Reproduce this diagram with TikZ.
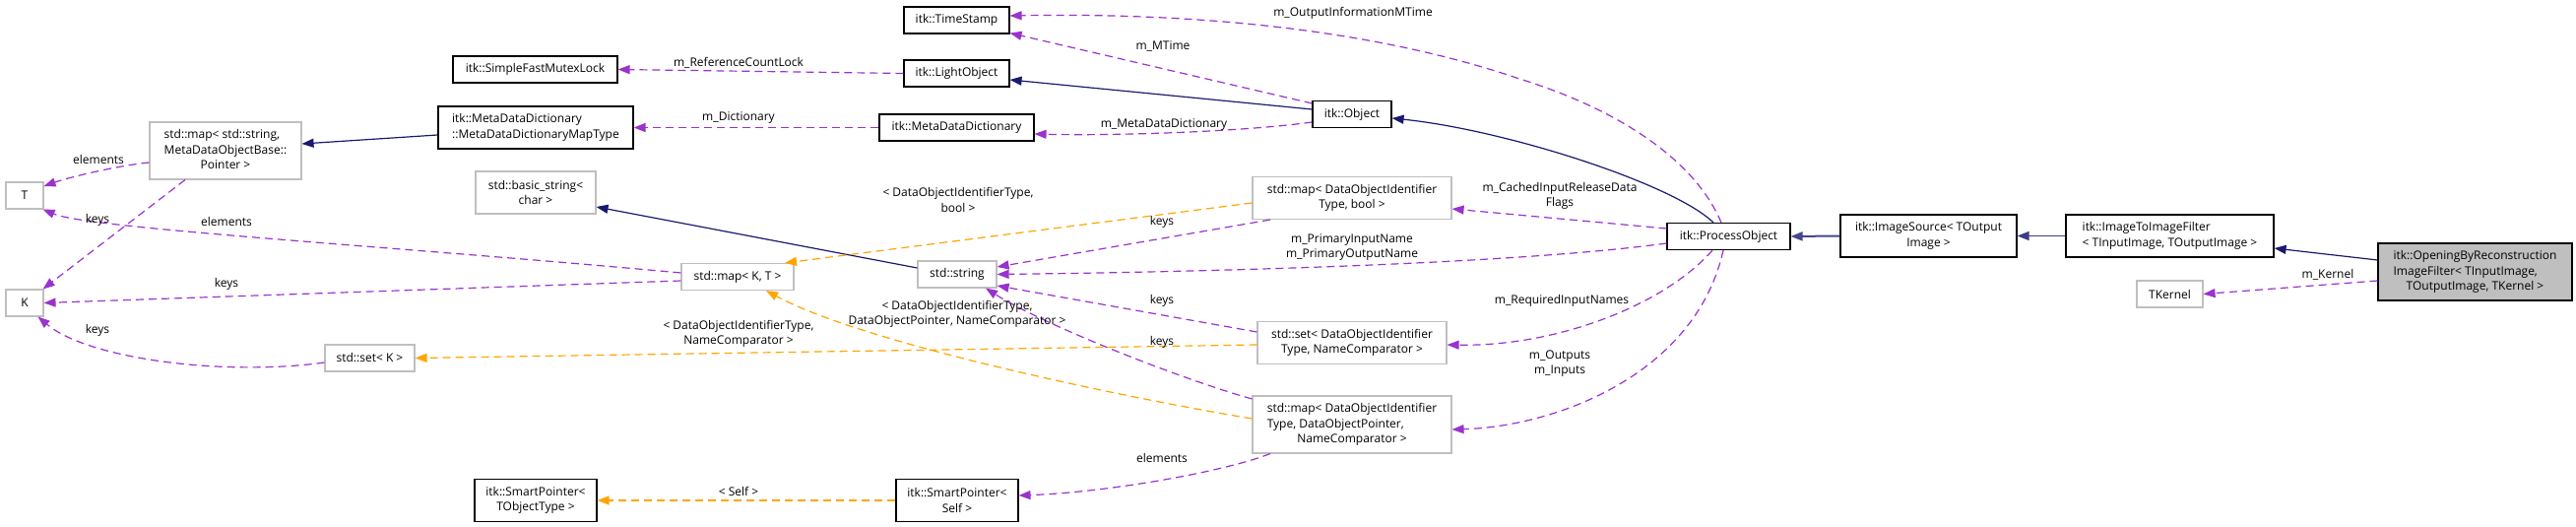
\documentclass[tikz,border=0pt]{standalone}
\usepackage{fontspec}
\setmainfont{Open Sans}
\usetikzlibrary{arrows.meta}

\definecolor{docblue}{HTML}{191970}
\definecolor{docpurple}{HTML}{9A32CD}
\definecolor{docorange}{HTML}{FFA500}
\definecolor{docgray}{HTML}{BFBFBF}

\begin{document}
\begin{tikzpicture}[
    x=1pt, y=-1pt,
    cls/.style={
        draw=black,
        line width=1.1pt,
        fill=white,
        inner sep=0pt,
        font=\fontsize{12}{15.6}\selectfont
    },
    ext/.style={cls, draw=docgray},
    mainbox/.style={cls, fill=docgray},
    row1/.style={minimum height=27pt},
    row2/.style={minimum height=43pt},
    row3/.style={minimum height=58pt},
    lbl/.style={inner sep=0pt, align=center, font=\fontsize{12}{15.6}\selectfont},
    inherit/.style={docblue, line width=1.2pt, -{Triangle[length=12pt,width=9pt]}},
    uses/.style={docpurple, line width=1.2pt, dash pattern=on 8pt off 5pt, -{Triangle[length=12pt,width=9pt]}},
    tmpl/.style={uses, docorange}
]
    \useasboundingbox (0,0) rectangle (2616,535);

    \node[cls, row1, minimum width=107pt] (timestamp) at (971.5,20.5) {itk::TimeStamp};
    \node[cls, row1, minimum width=107pt] (lightobj) at (971.5,74.5) {itk::LightObject};
    \node[cls, row1, minimum width=167pt] (mutexlock) at (543.5,70.5) {itk::SimpleFastMutexLock};
    \node[cls, row1, minimum width=157pt] (metadict) at (971.5,129.5) {itk::MetaDataDictionary};
    \node[cls, row2, minimum width=198pt, align=left] (dictmap) at (544,129.5) {itk::MetaDataDictionary\\::MetaDataDictionaryMapType};
    \node[cls, row1, minimum width=80pt] (object) at (1373,116) {itk::Object};
    \node[ext, row3, minimum width=154pt] (strmap) at (229,153) {\begin{tabular}{@{}l@{}}std::map< std::string,\\MetaDataObjectBase::\\\multicolumn{1}{@{}c@{}}{Pointer >}\end{tabular}};
    \node[ext, row1, minimum width=38pt] (tparam) at (25,198.5) {T};
    \node[ext, row1, minimum width=38pt] (kparam) at (25,307.5) {K};
    \node[ext, row2, minimum width=122pt, align=center] (basicstr) at (544,195.5) {std::basic\_string<\\char >};
    \node[ext, row1, minimum width=114pt] (mapkt) at (749,281) {std::map< K, T >};
    \node[ext, row1, minimum width=91pt] (setk) at (375.5,363.5) {std::set< K >};
    \node[cls, row2, minimum width=124pt, align=center] (ptrobj) at (544,508) {itk::SmartPointer<\\TObjectType >};
    \node[ext, row1, minimum width=80pt] (stdstr) at (972,278.5) {std::string};
    \node[ext, row2, minimum width=202pt, align=center] (flagmap) at (1373,201) {std::map< DataObjectIdentifier\\Type, bool >};
    \node[ext, row2, minimum width=192pt, align=center] (nameset) at (1373,348) {std::set< DataObjectIdentifier\\Type, NameComparator >};
    \node[ext, row3, minimum width=202pt] (objmap) at (1373,431) {\begin{tabular}{@{}l@{}}std::map< DataObjectIdentifier\\Type, DataObjectPointer,\\\multicolumn{1}{@{}c@{}}{NameComparator >}\end{tabular}};
    \node[cls, row2, minimum width=124pt, align=center] (ptrself) at (972,508) {itk::SmartPointer<\\Self >};
    \node[cls, row1, minimum width=125pt] (procobj) at (1755.5,240) {itk::ProcessObject};
    \node[cls, row2, minimum width=179pt, align=center] (imgsource) at (1958.5,239.5) {itk::ImageSource< TOutput\\Image >};
    \node[cls, row2, minimum width=211pt, align=left] (imgfilter) at (2203.5,239.5) {itk::ImageToImageFilter\\< TInputImage, TOutputImage >};
    \node[ext, row1, minimum width=67pt] (kernel) at (2203.5,298.5) {TKernel};
    \node[mainbox, row3, minimum width=197pt] (opening) at (2513.5,276) {\begin{tabular}{@{}l@{}}itk::OpeningByReconstruction\\ImageFilter< TInputImage,\\\multicolumn{1}{@{}c@{}}{TOutputImage, TKernel >}\end{tabular}};

    \draw[inherit] ([yshift=5pt]object.west) -- ([yshift=-6.5pt]lightobj.east);
    \draw[inherit] ([xshift=-15.5pt]procobj.north) .. controls (1700,187) and (1530,132) .. ([yshift=-4pt]object.east);
    \draw[inherit, line width=2pt, color=docblue!80!white] (imgsource.west) -- (procobj.east);
    \draw[inherit, color=docblue!85!white] (imgfilter.west) -- (imgsource.east);
    \draw[inherit] ([yshift=12pt]opening.west) -- ([yshift=-12.5pt]imgfilter.east);
    \draw[inherit] ([yshift=-7.5pt]dictmap.west) -- ([yshift=7pt]strmap.east);
    \draw[inherit] ([yshift=6.5pt]stdstr.west) -- ([yshift=-14.5pt]basicstr.east);

    \draw[uses] (lightobj.west) -- (mutexlock.east);
    \draw[uses] (metadict.west) -- (dictmap.east);
    \draw[uses] ([yshift=11pt]object.west) -- ([yshift=1pt]timestamp.south east);
    \draw[uses] ([yshift=-8pt]object.west) .. controls (1260,134) and (1130,138) .. ([yshift=-6.5pt]metadict.east);
    \draw[uses] ([xshift=-7.5pt]procobj.north) .. controls (1720,160) and (1640,110) .. (1543,80)
        .. controls (1420,38) and (1250,12) .. ([yshift=4.5pt]timestamp.east);
    \draw[uses] ([yshift=8pt]procobj.west) -- ([yshift=-11pt]flagmap.east);
    \draw[uses] ([yshift=-7pt]procobj.west) .. controls (1560,265) and (1300,275) .. (stdstr.east);
    \draw[uses] ([xshift=-16.5pt]procobj.south) .. controls (1690,310) and (1580,352) .. ([yshift=-2pt]nameset.east);
    \draw[uses] ([xshift=-5.5pt]procobj.south) .. controls (1722,380) and (1580,433) .. ([yshift=-5pt]objmap.east);
    \draw[uses] ([yshift=-9pt]opening.west) -- (kernel.east);
    \draw[uses] ([xshift=-83pt]flagmap.south) -- ([yshift=7.5pt]stdstr.east);
    \draw[uses] ([yshift=11pt]nameset.west) -- ([yshift=-11.5pt]stdstr.east);
    \draw[uses] ([yshift=26pt]objmap.west) .. controls (1200,385) and (1060,330) .. ([xshift=29pt]stdstr.south);
    \draw[uses] ([xshift=-83pt]objmap.south) .. controls (1240,480) and (1120,500) .. ([yshift=5pt]ptrself.east);
    \draw[uses] ([yshift=-12pt]strmap.west) .. controls (120,168) and (70,180) .. ([yshift=9.5pt]tparam.east);
    \draw[uses] ([xshift=-41pt]strmap.south) -- ([xshift=-1pt]kparam.north east);
    \draw[uses] ([yshift=4pt]mapkt.west) .. controls (400,250) and (90,232) .. ([xshift=-1pt]tparam.south east);
    \draw[uses] ([yshift=-4pt]mapkt.west) -- (kparam.east);
    \draw[uses] ([yshift=-4.5pt]setk.west) .. controls (230,382) and (90,365) .. ([xshift=-6pt]kparam.south east);

    \draw[tmpl] ([yshift=-5pt]flagmap.west) -- ([xshift=48pt]mapkt.north);
    \draw[tmpl] ([yshift=-2pt]nameset.west) -- (setk.east);
    \draw[tmpl] ([yshift=6pt]objmap.west) .. controls (1150,405) and (880,350) .. ([xshift=29pt]mapkt.south);
    \draw[tmpl] (ptrself.west) -- (ptrobj.east);

    \node[lbl] (reflock) at (750,64) {m\_ReferenceCountLock};
    \node[lbl] (dictlbl) at (750,120) {m\_Dictionary};
    \node[lbl] (mtime) at (1181,47) {m\_MTime};
    \node[lbl] (metalbl) at (1182,127) {m\_MetaDataDictionary};
    \node[lbl] (infotime) at (1374,13) {m\_OutputInformationMTime};
    \node[lbl] (cached) at (1584,199) {m\_CachedInputReleaseData\\Flags};
    \node[lbl] (primary) at (1373,251) {m\_PrimaryInputName\\m\_PrimaryOutputName};
    \node[lbl] (required) at (1586,305) {m\_RequiredInputNames};
    \node[lbl] (inout) at (1584,369) {m\_Outputs\\m\_Inputs};
    \node[lbl] (kernellbl) at (2364,279) {m\_Kernel};
    \node[lbl] (flagkeys) at (1180,225) {keys};
    \node[lbl] (setkeys) at (1180,305) {keys};
    \node[lbl] (mapkeys) at (1180,347) {keys};
    \node[lbl] (mapelems) at (1180,465) {elements};
    \node[lbl] (flagargs) at (973,203) {< DataObjectIdentifierType,\\bool >};
    \node[lbl] (setargs) at (750,339) {< DataObjectIdentifierType,\\NameComparator >};
    \node[lbl] (mapargs) at (972,319) {< DataObjectIdentifierType,\\DataObjectPointer, NameComparator >};
    \node[lbl] (selfarg) at (750,499) {< Self >};
    \node[lbl] (strelems) at (100,162) {elements};
    \node[lbl] (strkeys) at (99,223) {keys};
    \node[lbl] (ktelems) at (230,225) {elements};
    \node[lbl] (ktkeys) at (230,288) {keys};
    \node[lbl] (setkkeys) at (99,335) {keys};
\end{tikzpicture}
\end{document}
